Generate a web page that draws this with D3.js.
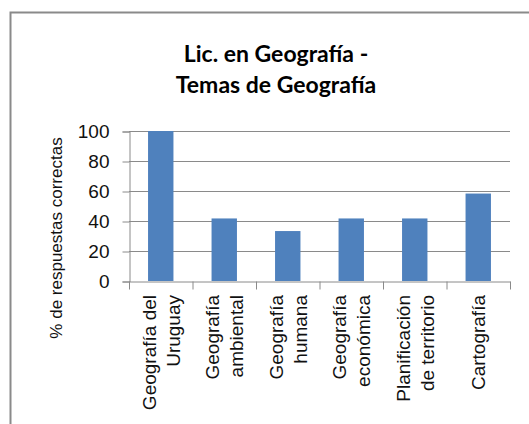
<!DOCTYPE html>
<html>
<head>
<meta charset="utf-8">
<script src="https://cdn.jsdelivr.net/npm/d3@7"></script>
<style>
  body { margin: 0; background: #fff; }
  .tick text { font-family: "Liberation Sans", Arial, sans-serif; }
</style>
</head>
<body>
<div id="vis"></div>
<script>
// chart data
var categories = [
    ["Geografía del", "Uruguay"],
    ["Geografía", "ambiental"],
    ["Geografía", "humana"],
    ["Geografía", "económica"],
    ["Planificación", "de territorio"],
    ["Cartografía"]
];
var values = [100, 41.7, 33.3, 41.7, 41.7, 58.3];
var yTicks = [0, 20, 40, 60, 80, 100];
var titleLines = ["Lic. en Geografía -", "Temas de Geografía"];
var yTitle = "% de respuestas correctas";

var w = 529,
    h = 424,
    plotLeft = 129, plotRight = 510,
    plotTop = 131, plotBottom = 281,
    gridColor = "#8a8a8a",
    barColor = "#4f81bd";

var svg = d3.select("#vis")
            .append("svg")
            .attr("width", w)
            .attr("height", h);

// chart border (runs off the right and bottom of the picture)
svg.append("rect")
   .attr("x", 10.5)
   .attr("y", 12.5)
   .attr("width", 540)
   .attr("height", 430)
   .attr("fill", "#fff")
   .attr("stroke", "#8a8a8a")
   .attr("stroke-width", 2);

var y = d3.scaleLinear().domain([0, 100]).range([plotBottom, plotTop]);
var x = d3.scaleBand()
          .domain(d3.range(categories.length))
          .range([plotLeft, plotRight])
          .paddingInner(0.6)
          .paddingOuter(0.3);
var xb = d3.scaleLinear().domain([0, categories.length]).range([plotLeft, plotRight]);

// gridlines
svg.selectAll(".grid")
   .data(yTicks.filter(function(d) { return d > 0; }))
   .enter()
   .append("line")
   .attr("class", "grid")
   .attr("x1", plotLeft)
   .attr("x2", plotRight)
   .attr("y1", function(d) { return Math.round(y(d)) + 0.5; })
   .attr("y2", function(d) { return Math.round(y(d)) + 0.5; })
   .attr("stroke", gridColor)
   .attr("stroke-width", 1);

// bars
svg.selectAll(".bar")
   .data(values)
   .enter()
   .append("rect")
   .attr("class", "bar")
   .attr("x", function(d, i) { return x(i); })
   .attr("width", x.bandwidth())
   .attr("y", function(d) { return y(d); })
   .attr("height", function(d) { return y(0) - y(d); })
   .attr("fill", barColor);

// y axis
var yAxis = svg.append("g")
   .attr("transform", "translate(" + (plotLeft + 0.5) + ",0.5)")
   .call(d3.axisLeft(y).tickValues(yTicks).tickSize(7).tickPadding(13));
yAxis.selectAll("line, path").attr("stroke", gridColor);
yAxis.selectAll("text").attr("font-size", 19).attr("fill", "#111");

// x axis with ticks between categories
var xAxis = svg.append("g")
   .attr("transform", "translate(0," + (plotBottom + 0.5) + ")")
   .call(d3.axisBottom(xb).tickValues(d3.range(categories.length + 1)).tickFormat("").tickSize(8).tickSizeOuter(0));
xAxis.selectAll("line, path").attr("stroke", gridColor);

// category labels, rotated
var lineH = 24;
svg.selectAll(".xLabel")
   .data(categories)
   .enter()
   .append("text")
   .attr("class", "xLabel")
   .attr("transform", function(d, i) {
       var cx = x(i) + x.bandwidth() / 2;
       var b = cx + 7 - (d.length - 1) * lineH / 2;
       return "translate(" + b + ",295) rotate(-90)";
   })
   .attr("text-anchor", "end")
   .attr("font-family", "Liberation Sans, Arial, sans-serif")
   .attr("font-size", 19)
   .attr("fill", "#111")
   .selectAll("tspan")
   .data(function(d) { return d; })
   .enter()
   .append("tspan")
   .attr("x", 0)
   .attr("y", function(d, i) { return i * lineH; })
   .text(String);

// y axis title
svg.append("text")
   .attr("transform", "translate(61.5,238) rotate(-90)")
   .attr("text-anchor", "middle")
   .attr("font-family", "Liberation Sans, Arial, sans-serif")
   .attr("font-size", 17)
   .attr("fill", "#111")
   .text(yTitle);

// title
svg.selectAll(".title")
   .data(titleLines)
   .enter()
   .append("text")
   .attr("class", "title")
   .attr("x", 276)
   .attr("y", function(d, i) { return 62 + i * 31; })
   .attr("text-anchor", "middle")
   .attr("font-family", "Lato, sans-serif")
   .attr("font-weight", "bold")
   .attr("font-size", 23)
   .attr("fill", "#000")
   .text(String);
</script>
</body>
</html>
